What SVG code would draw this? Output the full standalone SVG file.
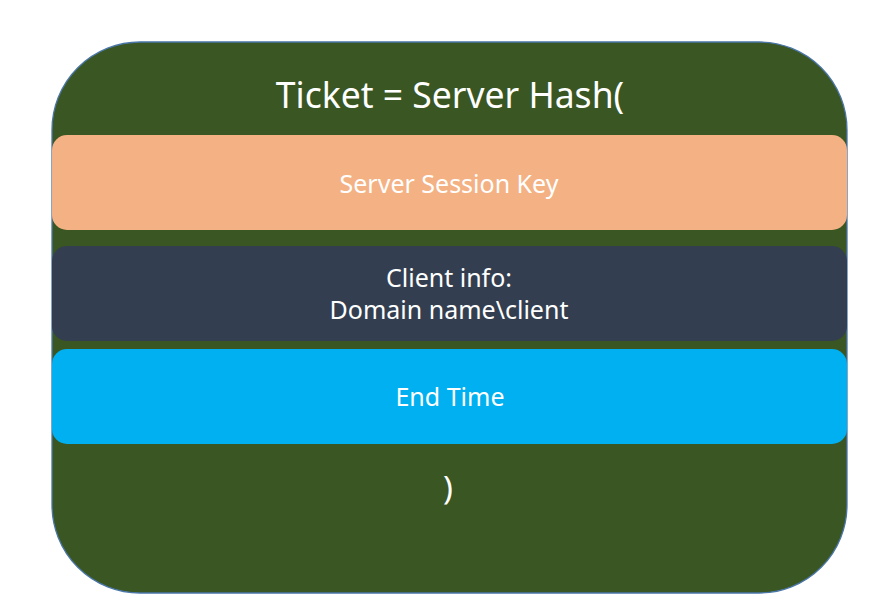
<svg xmlns="http://www.w3.org/2000/svg" width="893" height="613" viewBox="0 0 893 613">
  <style>
    .lbl { font-family: "Noto Sans", "Liberation Sans", sans-serif; fill: #ffffff; text-anchor: middle; }
    .bar { stroke: none; }
  </style>
  <rect width="893" height="613" fill="#ffffff"/>
  <g id="ticket">
    <rect x="52" y="42" width="795" height="551" rx="88" ry="88" fill="#3a5623" stroke="#4a76a8" stroke-width="1.3"/>
    <text class="lbl" x="450" y="108" font-size="35.5">Ticket = Server Hash(</text>
  </g>
  <g id="session-key">
    <rect class="bar" x="52" y="135" width="795" height="95" rx="15" fill="#f4b183"/>
    <text class="lbl" x="449" y="193" font-size="25">Server Session Key</text>
  </g>
  <g id="client-info">
    <rect class="bar" x="52" y="246" width="795" height="95" rx="15" fill="#333f50"/>
    <text class="lbl" x="449" y="287" font-size="25">Client info:</text>
    <text class="lbl" x="449" y="319" font-size="25">Domain name\client</text>
  </g>
  <g id="end-time">
    <rect class="bar" x="52" y="349" width="795" height="95" rx="15" fill="#00b0f0"/>
    <text class="lbl" x="450" y="406" font-size="25">End Time</text>
  </g>
  <g id="close-paren">
    <text class="lbl" x="448" y="500" font-size="33">)</text>
  </g>
</svg>
